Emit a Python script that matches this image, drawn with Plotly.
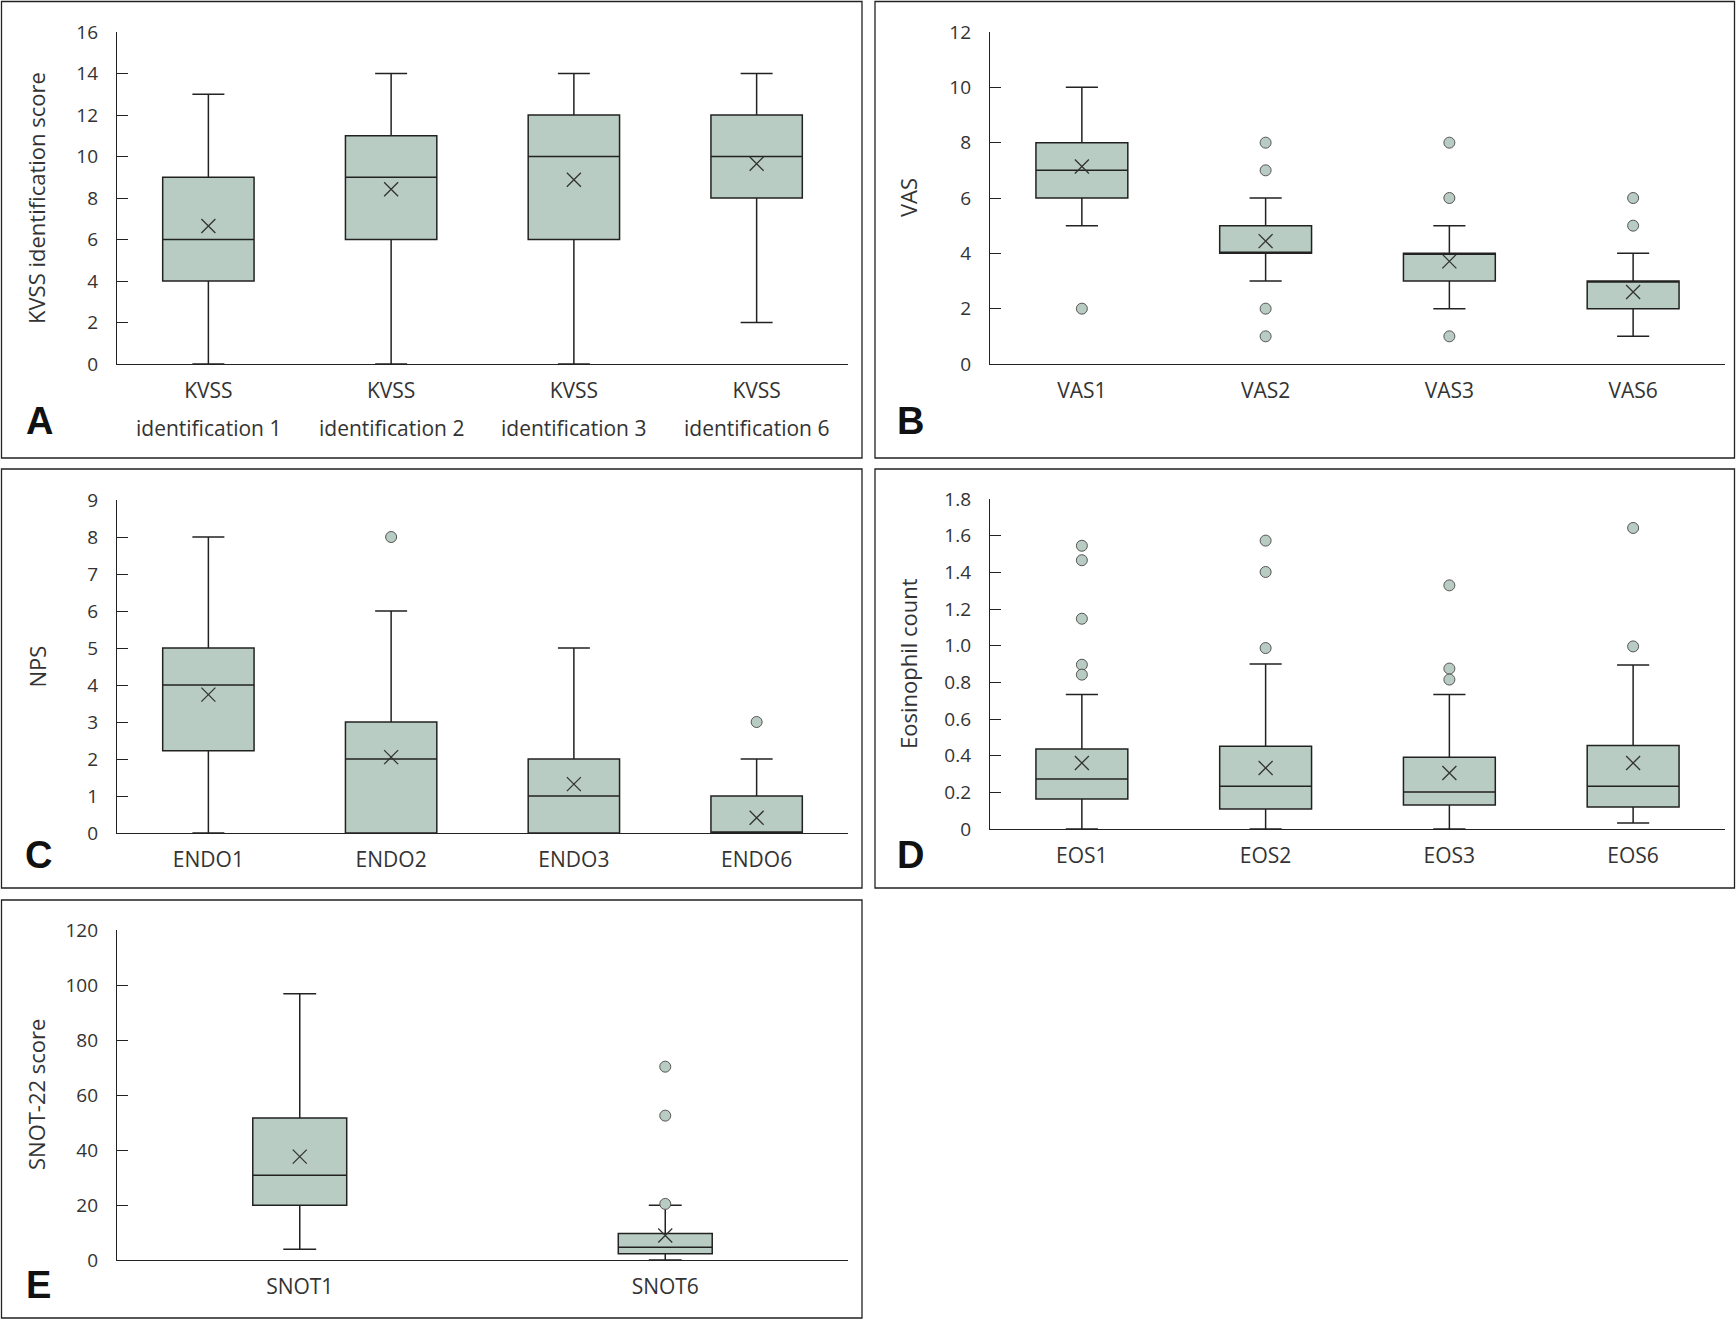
import plotly.graph_objects as go

W, H = 1736, 1321

# ---------------- data ----------------
kvss_cats = ["KVSS identification 1", "KVSS identification 2", "KVSS identification 3", "KVSS identification 6"]
kvss_line1 = ["KVSS", "KVSS", "KVSS", "KVSS"]
kvss_line2 = ["identification 1", "identification 2", "identification 3", "identification 6"]
kvss_low = [0, 0, 0, 2]
kvss_q1 = [4, 6, 6, 8]
kvss_med = [6, 9, 10, 10]
kvss_q3 = [9, 11, 12, 12]
kvss_high = [13, 14, 14, 14]
kvss_mean = [6.65, 8.42, 8.88, 9.65]
kvss_out_x = []
kvss_out_y = []

vas_cats = ["VAS1", "VAS2", "VAS3", "VAS6"]
vas_low = [5, 3, 2, 1]
vas_q1 = [6, 4, 3, 2]
vas_med = [7, 4, 4, 3]
vas_q3 = [8, 5, 4, 3]
vas_high = [10, 6, 5, 4]
vas_mean = [7.14, 4.44, 3.71, 2.6]
vas_out_x = ["VAS1", "VAS2", "VAS2", "VAS2", "VAS2", "VAS3", "VAS3", "VAS3", "VAS6", "VAS6"]
vas_out_y = [2, 8, 7, 2, 1, 8, 6, 1, 6, 5]

endo_cats = ["ENDO1", "ENDO2", "ENDO3", "ENDO6"]
endo_low = [0, 0, 0, 0]
endo_q1 = [2.22, 0, 0, 0]
endo_med = [4, 2, 1, 0]
endo_q3 = [5, 3, 2, 1]
endo_high = [8, 6, 5, 2]
endo_mean = [3.74, 2.05, 1.32, 0.41]
endo_out_x = ["ENDO2", "ENDO6"]
endo_out_y = [8, 3]

eos_cats = ["EOS1", "EOS2", "EOS3", "EOS6"]
eos_low = [0, 0, 0, 0.033]
eos_q1 = [0.164, 0.109, 0.131, 0.12]
eos_med = [0.273, 0.233, 0.202, 0.233]
eos_q3 = [0.436, 0.451, 0.391, 0.456]
eos_high = [0.733, 0.9, 0.733, 0.895]
eos_mean = [0.36, 0.333, 0.305, 0.36]
eos_out_x = ["EOS1", "EOS1", "EOS1", "EOS1", "EOS1", "EOS2", "EOS2", "EOS2", "EOS3", "EOS3", "EOS3", "EOS6", "EOS6"]
eos_out_y = [1.545, 1.466, 1.147, 0.896, 0.842, 1.573, 1.402, 0.987, 1.329, 0.875, 0.815, 1.642, 0.996]
eos_ticks = [0, 0.2, 0.4, 0.6, 0.8, 1.0, 1.2, 1.4, 1.6, 1.8]
eos_ticktext = ["0", "0.2", "0.4", "0.6", "0.8", "1.0", "1.2", "1.4", "1.6", "1.8"]

snot_cats = ["SNOT1", "SNOT6"]
snot_low = [3.9, 0]
snot_q1 = [19.9, 2.3]
snot_med = [30.8, 4.6]
snot_q3 = [51.6, 9.6]
snot_high = [96.8, 19.9]
snot_mean = [37.6, 8.9]
snot_out_x = ["SNOT6", "SNOT6", "SNOT6"]
snot_out_y = [70.3, 52.5, 20.4]

# ---------------- styling ----------------
FILL = "#b8ccc3"
LINE = "#222222"
TXT = "#333333"
FONT = "Open Sans"


def px_x(v):
    return v / W


def px_y(v):
    return 1 - v / H


panels = [
    dict(cats=kvss_cats, low=kvss_low, q1=kvss_q1, med=kvss_med, q3=kvss_q3, high=kvss_high, mean=kvss_mean,
         ox=kvss_out_x, oy=kvss_out_y, yr=[0, 16], dt=2, xd=(117, 848), yd=(32, 364), bw=0.5,
         ytitle="KVSS identification score", tx=36, letter="A", lx=39, ly=421),
    dict(cats=vas_cats, low=vas_low, q1=vas_q1, med=vas_med, q3=vas_q3, high=vas_high, mean=vas_mean,
         ox=vas_out_x, oy=vas_out_y, yr=[0, 12], dt=2, xd=(990, 1725), yd=(32, 364), bw=0.5,
         ytitle="VAS", tx=908, letter="B", lx=910, ly=421),
    dict(cats=endo_cats, low=endo_low, q1=endo_q1, med=endo_med, q3=endo_q3, high=endo_high, mean=endo_mean,
         ox=endo_out_x, oy=endo_out_y, yr=[0, 9], dt=1, xd=(117, 848), yd=(500, 833), bw=0.5,
         ytitle="NPS", tx=36, letter="C", lx=38, ly=855),
    dict(cats=eos_cats, low=eos_low, q1=eos_q1, med=eos_med, q3=eos_q3, high=eos_high, mean=eos_mean,
         ox=eos_out_x, oy=eos_out_y, yr=[0, 1.8], dt=0.2, xd=(990, 1725), yd=(499, 829), bw=0.5,
         ytitle="Eosinophil count", tx=908, letter="D", lx=910, ly=855),
    dict(cats=snot_cats, low=snot_low, q1=snot_q1, med=snot_med, q3=snot_q3, high=snot_high, mean=snot_mean,
         ox=snot_out_x, oy=snot_out_y, yr=[0, 120], dt=20, xd=(117, 848), yd=(930, 1260), bw=0.257,
         ytitle="SNOT-22 score", tx=36, letter="E", lx=38, ly=1285),
]

borders = [(1.5, 1.5, 862, 458), (875, 1.5, 1734.5, 458), (1.5, 469, 862, 888), (875, 469, 1734.5, 888),
           (1.5, 900, 862, 1318)]

fig = go.Figure()
layout = dict(width=W, height=H, margin=dict(l=0, r=0, t=0, b=0, pad=0), paper_bgcolor="white",
              plot_bgcolor="white", showlegend=False, shapes=[], annotations=[])

for i, p in enumerate(panels):
    n = "" if i == 0 else str(i + 1)
    xa, ya = "x" + n, "y" + n
    fig.add_trace(go.Box(
        x=p["cats"], q1=p["q1"], median=p["med"], q3=p["q3"],
        lowerfence=p["low"], upperfence=p["high"],
        width=p["bw"], whiskerwidth=0.35, boxpoints=False,
        fillcolor=FILL, line=dict(color=LINE, width=1.5),
        xaxis=xa, yaxis=ya, hoverinfo="skip",
    ))
    if p["ox"]:
        fig.add_trace(go.Scatter(
            x=p["ox"], y=p["oy"], mode="markers",
            marker=dict(symbol="circle", size=11, color=FILL, line=dict(color="#555555", width=1)),
            xaxis=xa, yaxis=ya, hoverinfo="skip",
        ))
    fig.add_trace(go.Scatter(
        x=p["cats"], y=p["mean"], mode="markers",
        marker=dict(symbol="x-thin", size=14, color=TXT, line=dict(color=TXT, width=1.3)),
        xaxis=xa, yaxis=ya, hoverinfo="skip",
    ))

    nc = len(p["cats"])
    yax = dict(domain=[px_y(p["yd"][1]), px_y(p["yd"][0])], range=p["yr"], dtick=p["dt"],
               showline=True, linecolor=LINE, linewidth=1.3, ticks="inside", ticklen=11,
               tickcolor=LINE, tickwidth=1.3, showgrid=False, zeroline=False, automargin=False,
               tickfont=dict(family=FONT, size=19, color=TXT), anchor=xa, ticklabelstandoff=14)
    if p["letter"] == "D":
        yax.update(tickmode="array", tickvals=eos_ticks, ticktext=eos_ticktext)
    xax = dict(domain=[px_x(p["xd"][0]), px_x(p["xd"][1])], range=[-0.5, nc - 0.5],
               showline=True, linecolor=LINE, linewidth=1.3, ticks="", showgrid=False,
               zeroline=False, automargin=False, tickfont=dict(family=FONT, size=21, color=TXT),
               anchor=ya, type="category", ticklabelstandoff=8)
    if i == 0:
        xax.update(tickmode="array", tickvals=p["cats"], ticktext=kvss_line1)
    layout["xaxis" + n] = xax
    layout["yaxis" + n] = yax

    # y-axis title
    layout["annotations"].append(dict(
        text=p["ytitle"], textangle=-90, xref="paper", yref="paper",
        x=px_x(p["tx"]), y=px_y((p["yd"][0] + p["yd"][1]) / 2), showarrow=False,
        xanchor="center", yanchor="middle", font=dict(family=FONT, size=22, color=TXT)))
    # panel letter
    layout["annotations"].append(dict(
        text="<b>%s</b>" % p["letter"], xref="paper", yref="paper",
        x=px_x(p["lx"]), y=px_y(p["ly"]), showarrow=False, xanchor="center", yanchor="middle",
        font=dict(family="Liberation Sans", size=38, color="#111111")))

# second line of the KVSS category labels
for c, t in zip(kvss_cats, kvss_line2):
    layout["annotations"].append(dict(
        text=t, xref="x", yref="paper", x=c, y=px_y(428), showarrow=False,
        xanchor="center", yanchor="middle", font=dict(family=FONT, size=21, color=TXT)))

for (x0, y0, x1, y1) in borders:
    layout["shapes"].append(dict(type="rect", xref="paper", yref="paper",
                                 x0=px_x(x0), x1=px_x(x1), y0=px_y(y1), y1=px_y(y0),
                                 line=dict(color="#222222", width=1.3)))

fig.update_layout(**layout)
# remove the default 8px page margin so the figure sits at the window origin
fig.write_html("out.html", config={"displayModeBar": False},
               post_script="document.body.style.margin='0';document.body.style.padding='0';")
